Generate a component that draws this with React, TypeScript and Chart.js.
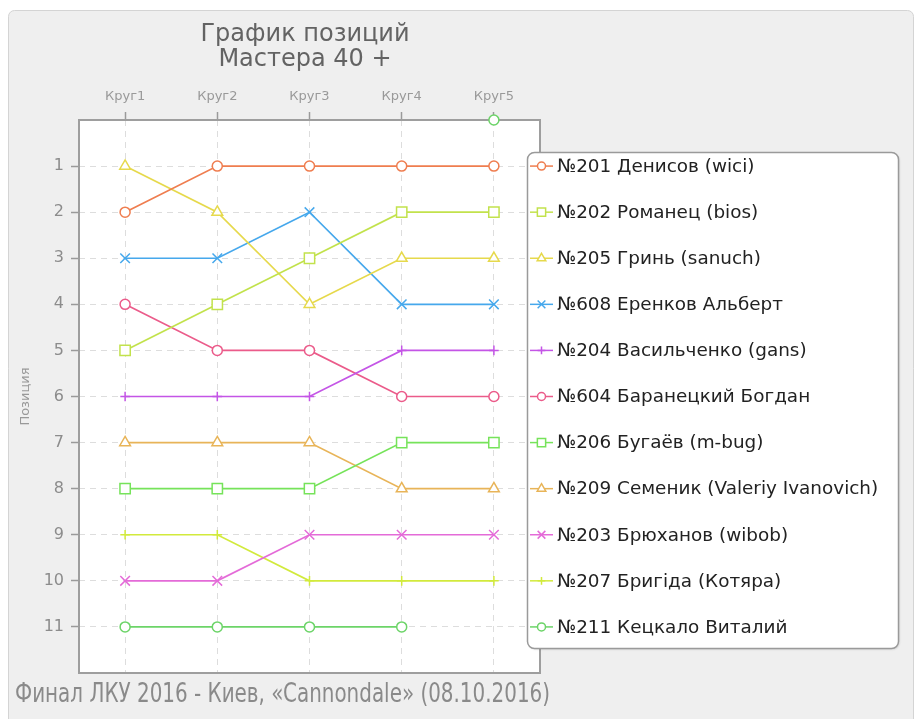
import { useEffect, useRef } from 'react';
import { Chart, registerables } from 'chart.js';
import { drawPoint } from 'chart.js/helpers';

Chart.register(...registerables);

const titleLines = ['График позиций', 'Мастера 40 +'];
const footerText = 'Финал ЛКУ 2016 - Киев, «Cannondale» (08.10.2016)';
const axisTitle = 'Позиция';

const rounds = ['Круг1', 'Круг2', 'Круг3', 'Круг4', 'Круг5'];

const riderNames = [
  '№201 Денисов (wici)',
  '№202 Романец (bios)',
  '№205 Гринь (sanuch)',
  '№608 Еренков Альберт',
  '№204 Васильченко (gans)',
  '№604 Баранецкий Богдан',
  '№206 Бугаёв (m-bug)',
  '№209 Семеник (Valeriy Ivanovich)',
  '№203 Брюханов (wibob)',
  '№207 Бригіда (Котяра)',
  '№211 Кецкало Виталий',
];

const pos201 = [2, 1, 1, 1, 1];
const pos202 = [5, 4, 3, 2, 2];
const pos205 = [1, 2, 4, 3, 3];
const pos608 = [3, 3, 2, 4, 4];
const pos204 = [6, 6, 6, 5, 5];
const pos604 = [4, 5, 5, 6, 6];
const pos206 = [8, 8, 8, 7, 7];
const pos209 = [7, 7, 7, 8, 8];
const pos203 = [10, 10, 9, 9, 9];
const pos207 = [9, 9, 10, 10, 10];
const pos211 = [11, 11, 11, 11, 0];

const seriesValues = [pos201, pos202, pos205, pos608, pos204, pos604, pos206, pos209, pos203, pos207, pos211];

const seriesColors = [
  '#ef7d4f', '#c2e24c', '#e6d94c', '#46a8ec', '#c455e6', '#eb5b8a',
  '#76e35a', '#e8b458', '#e46bd8', '#d2ea3c', '#6cd468',
];
const seriesMarkers = [
  'circle', 'rect', 'triangle', 'crossRot', 'cross', 'circle',
  'rect', 'triangle', 'crossRot', 'cross', 'circle',
];
const markerRadius: Record<string, number> = {
  circle: 5,
  rect: 7.3,
  triangle: 6.2,
  crossRot: 6.8,
  cross: 4.8,
};

const yMin = 0;
const yMax = 12;

function roundRect(ctx: CanvasRenderingContext2D, x: number, y: number, w: number, h: number, r: number) {
  ctx.beginPath();
  ctx.moveTo(x + r, y);
  ctx.lineTo(x + w - r, y);
  ctx.arcTo(x + w, y, x + w, y + r, r);
  ctx.lineTo(x + w, y + h - r);
  ctx.arcTo(x + w, y + h, x + w - r, y + h, r);
  ctx.lineTo(x + r, y + h);
  ctx.arcTo(x, y + h, x, y + h - r, r);
  ctx.lineTo(x, y + r);
  ctx.arcTo(x, y, x + r, y, r);
  ctx.closePath();
}

const decor = {
  id: 'decor',
  beforeDraw(chart: any) {
    const { ctx, chartArea: a } = chart;
    ctx.save();
    ctx.fillStyle = '#ffffff';
    ctx.fillRect(0, 0, chart.width, chart.height);
    roundRect(ctx, 8.5, 10.5, 905, 720, 6);
    ctx.fillStyle = '#efefef';
    ctx.fill();
    ctx.strokeStyle = '#d4d4d4';
    ctx.lineWidth = 1;
    ctx.stroke();
    ctx.fillStyle = '#ffffff';
    ctx.fillRect(a.left, a.top, a.right - a.left, a.bottom - a.top);

    ctx.fillStyle = '#636363';
    ctx.font = '24px "DejaVu Sans", sans-serif';
    ctx.textAlign = 'center';
    ctx.textBaseline = 'alphabetic';
    ctx.fillText(titleLines[0], 305, 41);
    ctx.fillText(titleLines[1], 305, 66);

    ctx.font = '26px "DejaVu Sans Condensed", "DejaVu Sans", sans-serif';
    const w = ctx.measureText(footerText).width;
    ctx.textAlign = 'left';
    ctx.fillStyle = '#8a8a8a';
    ctx.translate(15, 702);
    ctx.scale(535 / w, 1);
    ctx.fillText(footerText, 0, 0);
    ctx.restore();
  },
  beforeDatasetsDraw(chart: any) {
    const { ctx, chartArea: a } = chart;
    ctx.save();
    ctx.strokeStyle = '#9e9e9e';
    ctx.lineWidth = 2;
    ctx.strokeRect(a.left, a.top, a.right - a.left, a.bottom - a.top);
    ctx.restore();
  },
  afterDraw(chart: any) {
    const { ctx } = chart;
    const yScale = chart.scales.y;
    ctx.save();
    roundRect(ctx, 527.5, 152.5, 371, 496, 7);
    ctx.shadowColor = 'rgba(0,0,0,0.15)';
    ctx.shadowOffsetX = 1;
    ctx.shadowOffsetY = 1;
    ctx.shadowBlur = 2;
    ctx.fillStyle = '#ffffff';
    ctx.fill();
    ctx.shadowColor = 'transparent';
    ctx.strokeStyle = '#9a9a9a';
    ctx.lineWidth = 1.5;
    ctx.stroke();

    ctx.font = '18.4px "DejaVu Sans", sans-serif';
    ctx.textAlign = 'left';
    ctx.textBaseline = 'middle';
    riderNames.forEach((name, i) => {
      const y = yScale.getPixelForValue(i + 1);
      const color = seriesColors[i];
      ctx.strokeStyle = color;
      ctx.lineWidth = 1.5;
      ctx.beginPath();
      ctx.moveTo(530, y);
      ctx.lineTo(553, y);
      ctx.stroke();
      ctx.fillStyle = '#ffffff';
      drawPoint(ctx, {
        pointStyle: seriesMarkers[i],
        radius: markerRadius[seriesMarkers[i]] * 0.8,
        rotation: 0,
        borderWidth: 1.3,
      } as any, 541.5, y);
      ctx.fillStyle = '#222222';
      ctx.fillText(name, 557, y + 1);
    });
    ctx.restore();
  },
};

export default function App() {
  const ref = useRef<HTMLCanvasElement>(null);
  useEffect(() => {
    if (!ref.current) return;
    const datasets = riderNames.map((name, i) => ({
      label: name,
      data: seriesValues[i],
      borderColor: seriesColors[i],
      backgroundColor: '#ffffff',
      pointBackgroundColor: '#ffffff',
      pointBorderColor: seriesColors[i],
      pointStyle: seriesMarkers[i],
      pointRadius: markerRadius[seriesMarkers[i]],
      pointBorderWidth: 1.5,
      borderWidth: 1.7,
      tension: 0,
      clip: false as const,
      segment: {
        borderColor: (c: any) => (c.p1.parsed.y === yMin || c.p0.parsed.y === yMin ? 'rgba(0,0,0,0)' : undefined),
      },
    }));
    const chart = new Chart(ref.current, {
      type: 'line',
      data: { labels: rounds, datasets },
      plugins: [decor],
      options: {
        animation: false,
        responsive: false,
        events: [],
        layout: { padding: { left: 14, top: 90, right: 375, bottom: 46 } },
        plugins: {
          legend: { display: false },
          title: { display: false },
          tooltip: { enabled: false },
        },
        scales: {
          x: {
            type: 'category',
            position: 'top',
            offset: true,
            afterFit: (s: any) => { s.height = 30; },
            grid: {
              color: '#dddddd',
              lineWidth: 1,
              tickLength: 8,
              tickColor: '#9a9a9a',
              tickWidth: 1.5,
              tickBorderDash: [],
              offset: false,
            },
            border: { display: false, dash: [6, 5] },
            ticks: {
              color: '#999999',
              font: { family: '"DejaVu Sans", sans-serif', size: 13 },
              padding: 8,
              maxRotation: 0,
            },
          },
          y: {
            type: 'linear',
            position: 'left',
            reverse: true,
            min: yMin,
            max: yMax,
            afterFit: (s: any) => { s.width = 65; },
            grid: {
              color: (c: any) => (c.tick && (c.tick.value === yMin || c.tick.value === yMax) ? 'rgba(0,0,0,0)' : '#dddddd'),
              lineWidth: 1,
              tickLength: 8,
              tickColor: (c: any) => (c.tick && (c.tick.value === yMin || c.tick.value === yMax) ? 'rgba(0,0,0,0)' : '#9a9a9a'),
              tickWidth: 1.5,
              tickBorderDash: [],
            },
            border: { display: false, dash: [6, 5] },
            ticks: {
              stepSize: 1,
              color: '#8c8c8c',
              font: { family: '"DejaVu Sans", sans-serif', size: 16 },
              padding: 7,
              callback: (v: any) => (v === yMin || v === yMax ? '' : String(v)),
            },
            title: {
              display: true,
              text: axisTitle,
              color: '#999999',
              font: { family: '"DejaVu Sans", sans-serif', size: 13 },
            },
          },
        },
      },
    });
    return () => chart.destroy();
  }, []);
  return (
    <div style={{ position: 'fixed', left: 0, top: 0, width: 915, height: 719 }}>
      <canvas ref={ref} width={915} height={719} style={{ display: 'block', width: 915, height: 719 }} />
    </div>
  );
}
